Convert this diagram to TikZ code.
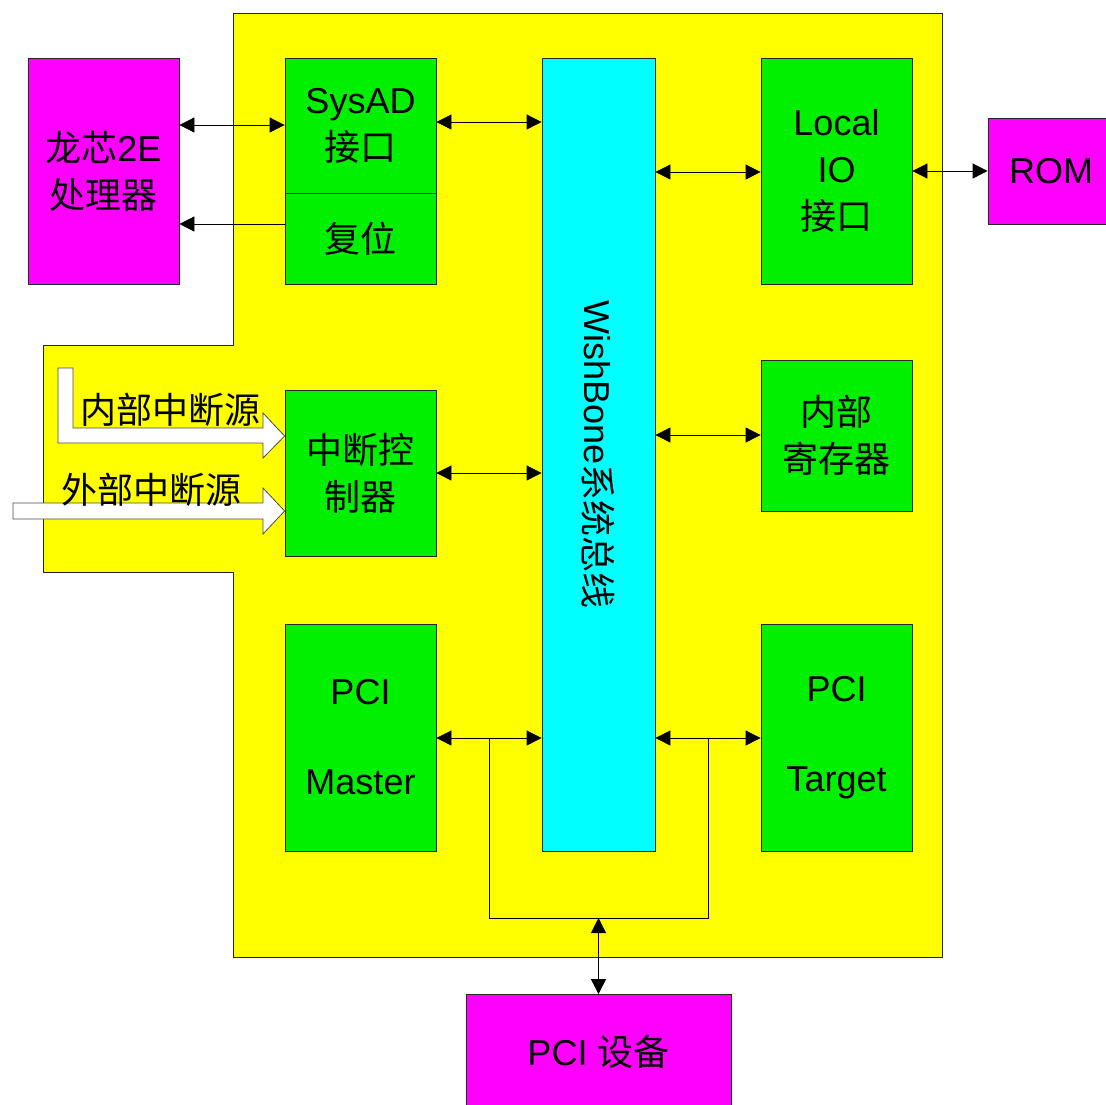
\documentclass[tikz,border=0pt]{standalone}
\usepackage{fontspec}
\setmainfont{Liberation Sans}
\newfontfamily\cjk{Noto Sans CJK SC}
\usetikzlibrary{arrows.meta, positioning}
\definecolor{chipyellow}{RGB}{255,255,0}
\definecolor{modgreen}{RGB}{0,240,0}
\definecolor{extmagenta}{RGB}{255,0,255}
\definecolor{buscyan}{RGB}{0,255,255}

\begin{document}
\begin{tikzpicture}[
    x=1pt, y=-1pt,
    box/.style={draw=black!85, line width=0.8pt, font=\fontsize{36}{47}\selectfont, align=center, inner sep=0pt},
    mod/.style={box, fill=modgreen, minimum width=151pt},
    ext/.style={box, fill=extmagenta},
    arr/.style={-{Triangle[length=15pt,width=15pt]}, line width=0.8pt},
    biarr/.style={{Triangle[length=15pt,width=15pt]}-{Triangle[length=15pt,width=15pt]}, line width=0.8pt},
    src/.style={fill=white, draw=black!70, line width=0.8pt},
    lbl/.style={font=\fontsize{36}{40}\selectfont\cjk, inner sep=0pt}
]
    \useasboundingbox (0,0) rectangle (1106,1104);

    % Chip area
    \draw[fill=chipyellow, draw=black!85, line width=0.8pt]
        (233,13) -- (942,13) -- (942,957) -- (233,957) -- (233,572)
        -- (43,572) -- (43,345) -- (233,345) -- cycle;

    % Outside parts
    \node[ext, minimum width=151pt, minimum height=226pt] (cpu) at (103.5,171) {{\cjk 龙芯}2E\\{\cjk 处理器}};
    \node[ext, minimum width=126pt, minimum height=106pt] (rom) at (1051,171) {ROM};
    \node[ext, minimum width=265pt, minimum height=115pt] (dev) at (598.5,1052) {PCI {\cjk 设备}};

    % Modules
    \node[mod, minimum height=135pt] (sysad) at (360.5,125.5) {SysAD\\{\cjk 接口}};
    \node[mod, minimum height=91pt] (reset) at (360.5,238.5) {\cjk 复位};
    \node[mod, minimum height=166pt] (intc) at (360.5,473) {\cjk 中断控\\\cjk 制器};
    \node[mod, minimum height=227pt] (pcim) at (360.5,737.5) {PCI\\[43pt]Master};
    \node[mod, minimum height=226pt] (lio) at (836.5,171) {Local\\IO\\{\cjk 接口}};
    \node[mod, minimum height=151pt] (reg) at (836.5,435.5) {\cjk 内部\\\cjk 寄存器};
    \node[mod, minimum height=227pt] (pcit) at (836.5,737.5) {PCI\\[43pt]Target};

    % WishBone bus
    \node[box, fill=buscyan, minimum width=113pt, minimum height=793pt] (bus) at (598.5,454.5) {};
    \node[box, draw=none, rotate=-90] (busname) at (bus.center) {WishBone{\cjk 系统总线}};

    % Interrupt sources
    \draw[src] (58,368) -- (73,368) -- (73,428) -- (263,428) -- (263,413) -- (intc.west |- 0,436)
        -- (263,458) -- (263,443) -- (58,443) -- cycle;
    \draw[src] (13,503) -- (263,503) -- (263,488) -- (intc.west |- 0,511)
        -- (263,534) -- (263,519) -- (13,519) -- cycle;
    \node[lbl] (insrc) at (170,410) {内部中断源};
    \node[lbl] (exsrc) at (151,490) {外部中断源};

    % Connections
    \draw[biarr] (cpu.east |- 0,125) -- (sysad.west |- 0,125);
    \draw[arr] (reset.west |- 0,224) -- (cpu.east |- 0,224);
    \draw[biarr] (sysad.east |- 0,122) -- (bus.west |- 0,122);
    \draw[biarr] (bus.east |- 0,172) -- (lio.west |- 0,172);
    \draw[biarr] (lio.east |- 0,171) -- (rom.west |- 0,171);
    \draw[biarr] (bus.east |- 0,435) -- (reg.west |- 0,435);
    \draw[biarr] (intc.east |- 0,473) -- (bus.west |- 0,473);
    \draw[biarr] (pcim.east |- 0,738) -- (bus.west |- 0,738);
    \draw[biarr] (bus.east |- 0,738) -- (pcit.west |- 0,738);

    % PCI side bus
    \coordinate (jm) at (489,738);
    \coordinate (jt) at (708,738);
    \coordinate (jb) at (598.5,918);
    \draw[line width=0.8pt] (jm) -- (jm |- jb) -- (jt |- jb) -- (jt);
    \draw[biarr] (jb) -- (dev.north);
\end{tikzpicture}
\end{document}
